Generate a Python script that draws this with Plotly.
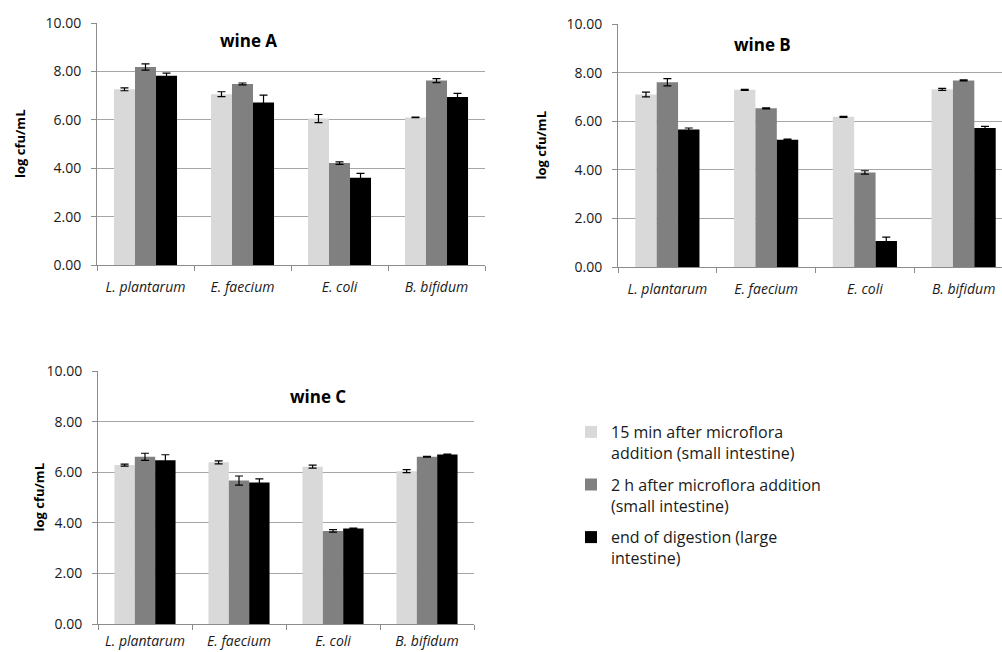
import plotly.graph_objects as go

# Bacterial counts (log cfu/mL) during in-vitro digestion of three wines
species = ["<i>L. plantarum</i>", "<i>E. faecium</i>", "<i>E. coli</i>", "<i>B. bifidum</i>"]
stages = [
    "15 min after microflora<br>addition (small intestine)",
    "2 h after microflora addition<br>(small intestine)",
    "end of digestion (large<br>intestine)",
]
stage_colors = ["#d9d9d9", "#808080", "#000000"]

wine_a_15min = [7.26, 7.06, 6.05, 6.10]
wine_a_2h = [8.18, 7.48, 4.21, 7.62]
wine_a_end = [7.82, 6.72, 3.61, 6.94]
wine_a_15min_err = [0.06, 0.10, 0.17, 0.01]
wine_a_2h_err = [0.13, 0.04, 0.05, 0.08]
wine_a_end_err = [0.11, 0.30, 0.18, 0.15]

wine_b_15min = [7.10, 7.29, 6.18, 7.31]
wine_b_2h = [7.60, 6.53, 3.89, 7.68]
wine_b_end = [5.66, 5.24, 1.07, 5.72]
wine_b_15min_err = [0.10, 0.02, 0.02, 0.04]
wine_b_2h_err = [0.15, 0.02, 0.07, 0.02]
wine_b_end_err = [0.06, 0.02, 0.16, 0.07]

wine_c_15min = [6.28, 6.39, 6.22, 6.04]
wine_c_2h = [6.61, 5.67, 3.68, 6.61]
wine_c_end = [6.47, 5.59, 3.77, 6.70]
wine_c_15min_err = [0.04, 0.06, 0.06, 0.06]
wine_c_2h_err = [0.14, 0.18, 0.05, 0.02]
wine_c_end_err = [0.22, 0.15, 0.02, 0.02]

panels = [
    ("wine A", [wine_a_15min, wine_a_2h, wine_a_end],
     [wine_a_15min_err, wine_a_2h_err, wine_a_end_err]),
    ("wine B", [wine_b_15min, wine_b_2h, wine_b_end],
     [wine_b_15min_err, wine_b_2h_err, wine_b_end_err]),
    ("wine C", [wine_c_15min, wine_c_2h, wine_c_end],
     [wine_c_15min_err, wine_c_2h_err, wine_c_end_err]),
]

W, H = 1002, 652
FONT = "Open Sans, Liberation Sans, sans-serif"

# panel boxes in pixels: (left, right, top, bottom)
boxes = [(97, 485, 23, 265), (618, 1002, 24, 267), (98, 474, 371, 624)]
# x range per panel (panel B runs off the right edge)
x_ranges = [[-0.5, 3.5], [-0.5, -0.5 + 384 / 98.75], [-0.5, 3.5]]
x_standoff = [9, 9, 4]
title_pos = [(248, 41), (762, 44), (318, 396)]
ylabel_x = [20, 540, 38]

fig = go.Figure()
for p, (name, series, errs) in enumerate(panels):
    sfx = "" if p == 0 else str(p + 1)
    for s in range(3):
        fig.add_trace(go.Bar(
            x=species, y=series[s],
            error_y=dict(type="data", array=errs[s], color="#000000",
                         thickness=1.2, width=4),
            marker=dict(color=stage_colors[s], line=dict(width=0)),
            name=stages[s], legendgroup="g%d" % s, showlegend=(p == 0),
            xaxis="x" + sfx, yaxis="y" + sfx,
        ))
    l, r, t, b = boxes[p]
    xa = dict(domain=[l / W, r / W], anchor="y" + sfx, range=x_ranges[p],
              showline=True, linecolor="#8c8c8c", linewidth=1,
              ticks="outside", tickson="boundaries", ticklen=5,
              tickcolor="#8c8c8c", showgrid=False, automargin=False,
              ticklabelstandoff=x_standoff[p],
              tickfont=dict(family=FONT, size=14, color="#1a1a1a"))
    ya = dict(domain=[1 - b / H, 1 - t / H], anchor="x" + sfx, range=[0, 10],
              dtick=2, tickformat=".2f", showline=True, linecolor="#8c8c8c",
              linewidth=1, ticks="outside", ticklen=5, tickcolor="#8c8c8c",
              gridcolor="#a6a6a6", gridwidth=1, zeroline=False,
              automargin=False, ticklabelstandoff=7,
              tickfont=dict(family=FONT, size=14, color="#1a1a1a"))
    fig.layout["xaxis" + sfx] = xa
    fig.layout["yaxis" + sfx] = ya
    tx, ty = title_pos[p]
    fig.add_annotation(text="<b>" + name + "</b>", x=tx / W, y=1 - ty / H,
                       xref="paper", yref="paper", showarrow=False,
                       xanchor="center", yanchor="middle",
                       font=dict(family=FONT, size=17, color="#000"))
    fig.add_annotation(text="<b>log cfu/mL</b>", x=ylabel_x[p] / W,
                       y=1 - (t + b) / 2 / H, xref="paper", yref="paper",
                       showarrow=False, textangle=-90,
                       xanchor="center", yanchor="middle",
                       font=dict(family=FONT, size=13, color="#000"))

fig.update_layout(
    width=W, height=H, margin=dict(l=0, r=0, t=0, b=0),
    paper_bgcolor="white", plot_bgcolor="white",
    barmode="group", bargap=0.35, bargroupgap=0,
    legend=dict(x=571 / W, y=1 - 415 / H, xanchor="left", yanchor="top",
                font=dict(family=FONT, size=16, color="#1a1a1a"),
                tracegroupgap=8, itemwidth=30, valign="top",
                bgcolor="rgba(0,0,0,0)"),
)

fig.write_html("out.html")
